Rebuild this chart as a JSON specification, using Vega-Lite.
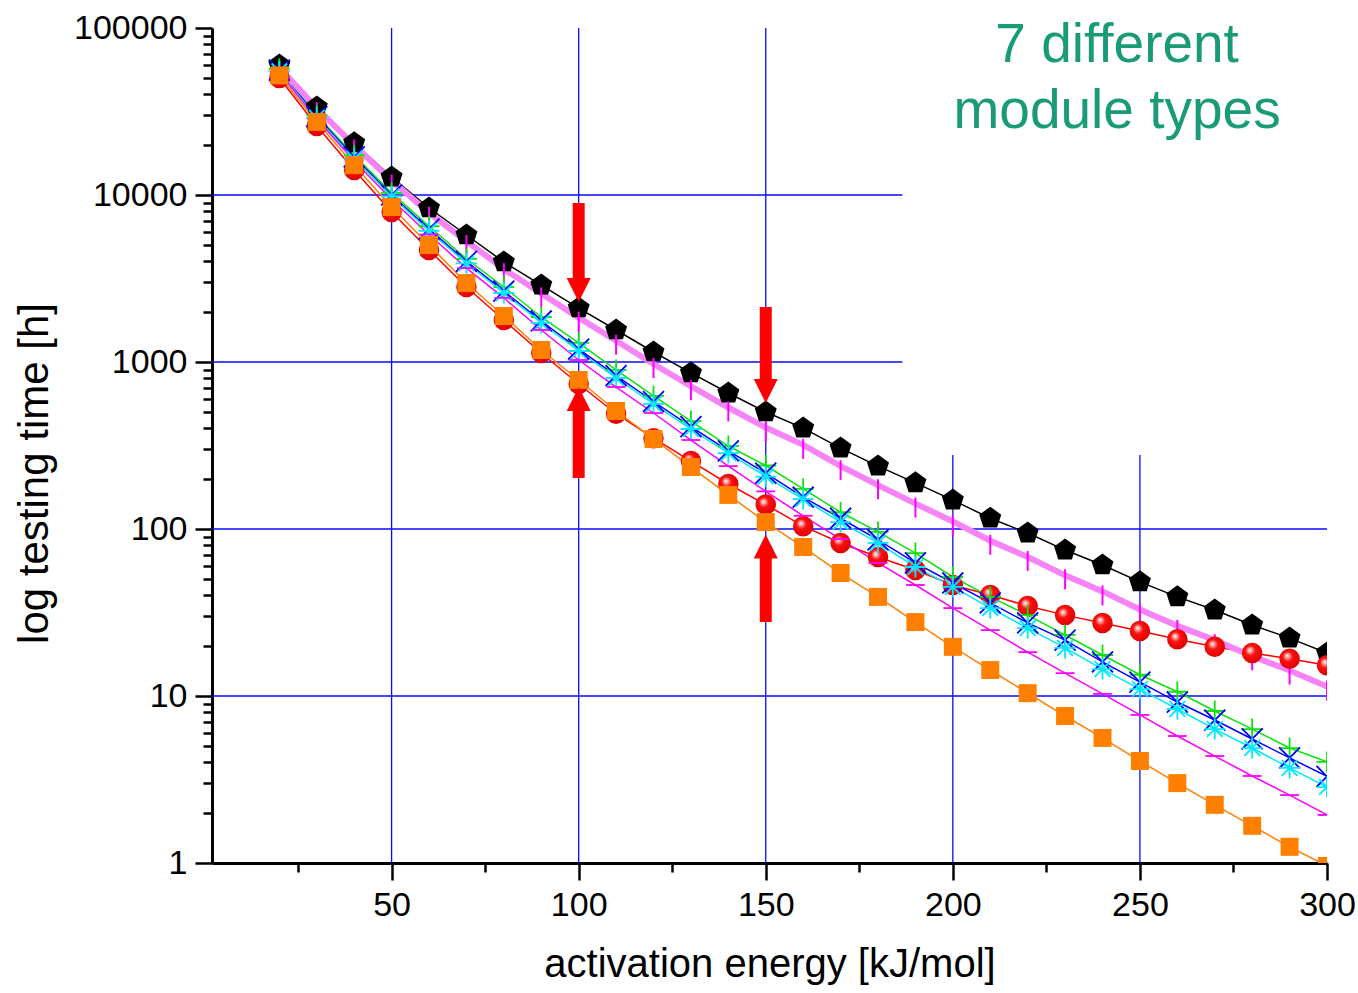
{
  "$schema": "https://vega.github.io/schema/vega-lite/v6.json",
  "width": 1115,
  "height": 835,
  "autosize": "none",
  "padding": {"left": 212, "top": 28, "right": 31, "bottom": 130},
  "background": "white",
  "config": {
    "view": {"stroke": null},
    "axis": {
      "grid": false,
      "labelFont": "Liberation Sans",
      "titleFont": "Liberation Sans",
      "labelColor": "#000000",
      "titleColor": "#000000",
      "domainColor": "#000000",
      "tickColor": "#000000",
      "domainWidth": 3,
      "tickWidth": 2.5,
      "labelFontSize": 34,
      "titleFontWeight": "normal",
      "labelOverlap": false,
      "labelFlush": false
    }
  },
  "datasets": {
    "pts": [
      {"s": "black", "E": 20, "t": 60000}, {"s": "black", "E": 30, "t": 33600}, {"s": "black", "E": 40, "t": 20500}, {"s": "black", "E": 50, "t": 12800}, {"s": "black", "E": 60, "t": 8360}, {"s": "black", "E": 70, "t": 5760}, {"s": "black", "E": 80, "t": 3970}, {"s": "black", "E": 90, "t": 2890}, {"s": "black", "E": 100, "t": 2105}, {"s": "black", "E": 110, "t": 1555}, {"s": "black", "E": 120, "t": 1148}, {"s": "black", "E": 130, "t": 860}, {"s": "black", "E": 140, "t": 652}, {"s": "black", "E": 150, "t": 502}, {"s": "black", "E": 160, "t": 402}, {"s": "black", "E": 170, "t": 305}, {"s": "black", "E": 180, "t": 238}, {"s": "black", "E": 190, "t": 189}, {"s": "black", "E": 200, "t": 149}, {"s": "black", "E": 210, "t": 116}, {"s": "black", "E": 220, "t": 94.6}, {"s": "black", "E": 230, "t": 74.8}, {"s": "black", "E": 240, "t": 60.9}, {"s": "black", "E": 250, "t": 48.2}, {"s": "black", "E": 260, "t": 39.2}, {"s": "black", "E": 270, "t": 32.7}, {"s": "black", "E": 280, "t": 26.6}, {"s": "black", "E": 290, "t": 22.2}, {"s": "black", "E": 300, "t": 18.1},
      {"s": "red", "E": 20, "t": 50200}, {"s": "red", "E": 30, "t": 25900}, {"s": "red", "E": 40, "t": 14100}, {"s": "red", "E": 50, "t": 7900}, {"s": "red", "E": 60, "t": 4690}, {"s": "red", "E": 70, "t": 2810}, {"s": "red", "E": 80, "t": 1783}, {"s": "red", "E": 90, "t": 1132}, {"s": "red", "E": 100, "t": 738}, {"s": "red", "E": 110, "t": 490}, {"s": "red", "E": 120, "t": 350}, {"s": "red", "E": 130, "t": 255}, {"s": "red", "E": 140, "t": 186}, {"s": "red", "E": 150, "t": 140}, {"s": "red", "E": 160, "t": 104}, {"s": "red", "E": 170, "t": 82.5}, {"s": "red", "E": 180, "t": 68}, {"s": "red", "E": 190, "t": 56.8}, {"s": "red", "E": 200, "t": 46.2}, {"s": "red", "E": 210, "t": 40.3}, {"s": "red", "E": 220, "t": 34.6}, {"s": "red", "E": 230, "t": 30.5}, {"s": "red", "E": 240, "t": 27.4}, {"s": "red", "E": 250, "t": 24.5}, {"s": "red", "E": 260, "t": 21.9}, {"s": "red", "E": 270, "t": 19.7}, {"s": "red", "E": 280, "t": 18.1}, {"s": "red", "E": 290, "t": 16.7}, {"s": "red", "E": 300, "t": 15.3},
      {"s": "green", "E": 20, "t": 57000}, {"s": "green", "E": 30, "t": 30000}, {"s": "green", "E": 40, "t": 17300}, {"s": "green", "E": 50, "t": 10300}, {"s": "green", "E": 60, "t": 6500}, {"s": "green", "E": 70, "t": 4150}, {"s": "green", "E": 80, "t": 2810}, {"s": "green", "E": 90, "t": 1860}, {"s": "green", "E": 100, "t": 1300}, {"s": "green", "E": 110, "t": 896}, {"s": "green", "E": 120, "t": 626}, {"s": "green", "E": 130, "t": 443}, {"s": "green", "E": 140, "t": 314}, {"s": "green", "E": 150, "t": 240}, {"s": "green", "E": 160, "t": 174}, {"s": "green", "E": 170, "t": 126}, {"s": "green", "E": 180, "t": 96}, {"s": "green", "E": 190, "t": 71.8}, {"s": "green", "E": 200, "t": 51.6}, {"s": "green", "E": 210, "t": 39.2}, {"s": "green", "E": 220, "t": 30.5}, {"s": "green", "E": 230, "t": 23.2}, {"s": "green", "E": 240, "t": 17.6}, {"s": "green", "E": 250, "t": 13.4}, {"s": "green", "E": 260, "t": 10.6}, {"s": "green", "E": 270, "t": 8.13}, {"s": "green", "E": 280, "t": 6.34}, {"s": "green", "E": 290, "t": 4.88}, {"s": "green", "E": 300, "t": 4.03},
      {"s": "blue", "E": 20, "t": 56000}, {"s": "blue", "E": 30, "t": 29500}, {"s": "blue", "E": 40, "t": 16900}, {"s": "blue", "E": 50, "t": 10000}, {"s": "blue", "E": 60, "t": 6250}, {"s": "blue", "E": 70, "t": 4000}, {"s": "blue", "E": 80, "t": 2660}, {"s": "blue", "E": 90, "t": 1760}, {"s": "blue", "E": 100, "t": 1196}, {"s": "blue", "E": 110, "t": 830}, {"s": "blue", "E": 120, "t": 580}, {"s": "blue", "E": 130, "t": 410}, {"s": "blue", "E": 140, "t": 294}, {"s": "blue", "E": 150, "t": 216}, {"s": "blue", "E": 160, "t": 155}, {"s": "blue", "E": 170, "t": 116}, {"s": "blue", "E": 180, "t": 86}, {"s": "blue", "E": 190, "t": 62.6}, {"s": "blue", "E": 200, "t": 47.5}, {"s": "blue", "E": 210, "t": 36.1}, {"s": "blue", "E": 220, "t": 27.4}, {"s": "blue", "E": 230, "t": 21.6}, {"s": "blue", "E": 240, "t": 16}, {"s": "blue", "E": 250, "t": 12.1}, {"s": "blue", "E": 260, "t": 9.2}, {"s": "blue", "E": 270, "t": 7.18}, {"s": "blue", "E": 280, "t": 5.53}, {"s": "blue", "E": 290, "t": 4.26}, {"s": "blue", "E": 300, "t": 3.3},
      {"s": "cyan", "E": 20, "t": 55000}, {"s": "cyan", "E": 30, "t": 29000}, {"s": "cyan", "E": 40, "t": 16500}, {"s": "cyan", "E": 50, "t": 9800}, {"s": "cyan", "E": 60, "t": 6100}, {"s": "cyan", "E": 70, "t": 3900}, {"s": "cyan", "E": 80, "t": 2590}, {"s": "cyan", "E": 90, "t": 1713}, {"s": "cyan", "E": 100, "t": 1164}, {"s": "cyan", "E": 110, "t": 802}, {"s": "cyan", "E": 120, "t": 561}, {"s": "cyan", "E": 130, "t": 397}, {"s": "cyan", "E": 140, "t": 285}, {"s": "cyan", "E": 150, "t": 206}, {"s": "cyan", "E": 160, "t": 151}, {"s": "cyan", "E": 170, "t": 110}, {"s": "cyan", "E": 180, "t": 82.5}, {"s": "cyan", "E": 190, "t": 59.2}, {"s": "cyan", "E": 200, "t": 45}, {"s": "cyan", "E": 210, "t": 33.6}, {"s": "cyan", "E": 220, "t": 25.5}, {"s": "cyan", "E": 230, "t": 19.4}, {"s": "cyan", "E": 240, "t": 14.5}, {"s": "cyan", "E": 250, "t": 11}, {"s": "cyan", "E": 260, "t": 8.36}, {"s": "cyan", "E": 270, "t": 6.34}, {"s": "cyan", "E": 280, "t": 4.88}, {"s": "cyan", "E": 290, "t": 3.71}, {"s": "cyan", "E": 300, "t": 2.85},
      {"s": "magenta", "E": 20, "t": 54000}, {"s": "magenta", "E": 30, "t": 28500}, {"s": "magenta", "E": 40, "t": 16000}, {"s": "magenta", "E": 50, "t": 9400}, {"s": "magenta", "E": 60, "t": 5800}, {"s": "magenta", "E": 70, "t": 3650}, {"s": "magenta", "E": 80, "t": 2420}, {"s": "magenta", "E": 90, "t": 1555}, {"s": "magenta", "E": 100, "t": 1028}, {"s": "magenta", "E": 110, "t": 708}, {"s": "magenta", "E": 120, "t": 495}, {"s": "magenta", "E": 130, "t": 341}, {"s": "magenta", "E": 140, "t": 238}, {"s": "magenta", "E": 150, "t": 168}, {"s": "magenta", "E": 160, "t": 120}, {"s": "magenta", "E": 170, "t": 87}, {"s": "magenta", "E": 180, "t": 62.6}, {"s": "magenta", "E": 190, "t": 46.2}, {"s": "magenta", "E": 200, "t": 33.6}, {"s": "magenta", "E": 210, "t": 24.8}, {"s": "magenta", "E": 220, "t": 18.3}, {"s": "magenta", "E": 230, "t": 13.7}, {"s": "magenta", "E": 240, "t": 10.3}, {"s": "magenta", "E": 250, "t": 7.7}, {"s": "magenta", "E": 260, "t": 5.76}, {"s": "magenta", "E": 270, "t": 4.37}, {"s": "magenta", "E": 280, "t": 3.32}, {"s": "magenta", "E": 290, "t": 2.55}, {"s": "magenta", "E": 300, "t": 1.94},
      {"s": "orange", "E": 20, "t": 52000}, {"s": "orange", "E": 30, "t": 27400}, {"s": "orange", "E": 40, "t": 15100}, {"s": "orange", "E": 50, "t": 8470}, {"s": "orange", "E": 60, "t": 5020}, {"s": "orange", "E": 70, "t": 2970}, {"s": "orange", "E": 80, "t": 1885}, {"s": "orange", "E": 90, "t": 1180}, {"s": "orange", "E": 100, "t": 780}, {"s": "orange", "E": 110, "t": 509}, {"s": "orange", "E": 120, "t": 346}, {"s": "orange", "E": 130, "t": 235}, {"s": "orange", "E": 140, "t": 160}, {"s": "orange", "E": 150, "t": 110}, {"s": "orange", "E": 160, "t": 78}, {"s": "orange", "E": 170, "t": 54.5}, {"s": "orange", "E": 180, "t": 39.2}, {"s": "orange", "E": 190, "t": 27.7}, {"s": "orange", "E": 200, "t": 19.7}, {"s": "orange", "E": 210, "t": 14.3}, {"s": "orange", "E": 220, "t": 10.4}, {"s": "orange", "E": 230, "t": 7.59}, {"s": "orange", "E": 240, "t": 5.61}, {"s": "orange", "E": 250, "t": 4.08}, {"s": "orange", "E": 260, "t": 3.01}, {"s": "orange", "E": 270, "t": 2.23}, {"s": "orange", "E": 280, "t": 1.67}, {"s": "orange", "E": 290, "t": 1.25}, {"s": "orange", "E": 300, "t": 0.96}
    ],
    "pink": [
      {"E": 20, "t": 58000}, {"E": 30, "t": 33100}, {"E": 40, "t": 19800}, {"E": 50, "t": 12200}, {"E": 60, "t": 7820}, {"E": 70, "t": 5300}, {"E": 80, "t": 3600}, {"E": 90, "t": 2575}, {"E": 100, "t": 1843}, {"E": 110, "t": 1341}, {"E": 120, "t": 973}, {"E": 130, "t": 716}, {"E": 140, "t": 534}, {"E": 150, "t": 405}, {"E": 160, "t": 319}, {"E": 170, "t": 238}, {"E": 180, "t": 183}, {"E": 190, "t": 142}, {"E": 200, "t": 111}, {"E": 210, "t": 85}, {"E": 220, "t": 68}, {"E": 230, "t": 52.8}, {"E": 240, "t": 42.3}, {"E": 250, "t": 33}, {"E": 260, "t": 26.3}, {"E": 270, "t": 21.6}, {"E": 280, "t": 17.3}, {"E": 290, "t": 14.2}, {"E": 300, "t": 11.4}
    ],
    "gridv": [
      {"E": 50, "t": 1, "t2": 100000}, {"E": 100, "t": 1, "t2": 100000}, {"E": 150, "t": 1, "t2": 100000}, {"E": 200, "t": 1, "t2": 277}, {"E": 250, "t": 1, "t2": 277}
    ],
    "gridh": [
      {"t": 10000, "E": 2, "E2": 186.5}, {"t": 1000, "E": 2, "E2": 186.5}, {"t": 100, "E": 2, "E2": 300}, {"t": 10, "E": 2, "E2": 300}
    ],
    "shafts": [
      {"E": 100, "t": 8955, "t2": 3098}, {"E": 150, "t": 2135, "t2": 759}, {"E": 100, "t": 202, "t2": 516}, {"E": 150, "t": 27.7, "t2": 69.9}
    ],
    "heads": [
      {"E": 100, "t": 2699, "dir": "down"}, {"E": 150, "t": 670, "dir": "down"}, {"E": 100, "t": 600, "dir": "up"}, {"E": 150, "t": 78.6, "dir": "up"}
    ],
    "notes": [
      {"E": 243.9, "t": 62540, "label": "7 different"}, {"E": 243.9, "t": 25180, "label": "module types"}
    ]
  },
  "encoding": {
    "x": {
      "field": "E", "type": "quantitative",
      "scale": {"domain": [2, 300], "nice": false, "zero": false},
      "axis": {
        "title": "activation energy [kJ/mol]",
        "titleFontSize": 40,
        "titleY": 113,
        "titleBaseline": "alphabetic",
        "values": [25, 50, 75, 100, 125, 150, 175, 200, 225, 250, 275, 300],
        "labelExpr": "datum.value % 50 == 0 ? datum.label : ''",
        "tickSize": {"condition": {"test": "datum.value % 50 == 0", "value": 17}, "value": 9},
        "labelPadding": 8
      }
    },
    "y": {
      "field": "t", "type": "quantitative",
      "scale": {"type": "log", "domain": [1, 100000], "nice": false},
      "axis": {
        "title": "log testing time [h]",
        "titleFontSize": 42,
        "titleX": -165,
        "titleY": 445,
        "titleBaseline": "alphabetic",
        "titleAlign": "center",
        "format": "d",
        "values": [1, 2, 3, 4, 5, 6, 7, 8, 9, 10, 20, 30, 40, 50, 60, 70, 80, 90, 100, 200, 300, 400, 500, 600, 700, 800, 900, 1000, 2000, 3000, 4000, 5000, 6000, 7000, 8000, 9000, 10000, 20000, 30000, 40000, 50000, 60000, 70000, 80000, 90000, 100000],
        "labelExpr": "indexof([1, 10, 100, 1000, 10000, 100000], datum.value) >= 0 ? datum.label : ''",
        "tickSize": {"condition": {"test": "indexof([1, 10, 100, 1000, 10000, 100000], datum.value) >= 0", "value": 17}, "value": 9},
        "labelPadding": 8
      }
    }
  },
  "layer": [
    {
      "data": {"name": "gridv"},
      "mark": {"type": "rule", "color": "#0a0aff", "strokeWidth": 1.3},
      "encoding": {"y2": {"field": "t2"}}
    },
    {
      "data": {"name": "gridh"},
      "mark": {"type": "rule", "color": "#0a0aff", "strokeWidth": 1.3},
      "encoding": {"x2": {"field": "E2"}}
    },
    {
      "data": {"name": "pts"},
      "mark": {"type": "line", "strokeWidth": 1.5, "clip": true},
      "encoding": {
        "color": {
          "field": "s", "type": "nominal", "legend": null,
          "scale": {
            "domain": ["black", "red", "green", "blue", "cyan", "magenta", "orange"],
            "range": ["#000000", "#ff0000", "#10e010", "#0000ff", "#00e8ff", "#ff00ff", "#ff8000"]
          }
        },
        "order": {"field": "E", "type": "quantitative"}
      }
    },
    {
      "data": {"name": "pink"},
      "mark": {"type": "line", "strokeWidth": 6, "color": "#f684f6", "clip": true},
      "encoding": {}
    },
    {
      "data": {"name": "pts"},
      "transform": [{"filter": "datum.s == 'black'"}],
      "mark": {"type": "point", "filled": true, "opacity": 1, "fill": "#000000", "size": 535, "clip": true,
        "shape": "M0,-1L0.951,-0.309L0.588,0.809L-0.588,0.809L-0.951,-0.309Z"},
      "encoding": {}
    },
    {
      "data": {"name": "pink"},
      "mark": {"type": "point", "filled": false, "opacity": 1, "stroke": "#ff00ff", "strokeWidth": 2, "size": 400, "yOffset": 4, "clip": true, "shape": "M0,-1L0,1"},
      "encoding": {}
    },
    {
      "data": {"name": "pts"},
      "transform": [{"filter": "datum.s == 'red'"}],
      "mark": {"type": "point", "filled": true, "opacity": 1, "size": 420, "shape": "circle", "clip": true,
        "fill": {"gradient": "radial", "x1": 0.38, "y1": 0.35, "r1": 0, "x2": 0.45, "y2": 0.45, "r2": 0.6,
          "stops": [{"offset": 0, "color": "#ffffff"}, {"offset": 0.12, "color": "#ffc0c0"}, {"offset": 0.4, "color": "#ff1010"}, {"offset": 1, "color": "#d80000"}]}},
      "encoding": {}
    },
    {
      "data": {"name": "pts"},
      "transform": [{"filter": "indexof(['green', 'blue', 'cyan', 'magenta'], datum.s) >= 0"}],
      "mark": {"type": "point", "filled": false, "opacity": 1, "strokeWidth": 1.8, "size": 440, "clip": true},
      "encoding": {
        "shape": {
          "field": "s", "type": "nominal", "legend": null,
          "scale": {
            "domain": ["green", "blue", "cyan", "magenta"],
            "range": ["M-1,0L1,0M0,-1L0,1", "M-1,-1L1,1M-1,1L1,-1", "M-1,0L1,0M0,-1L0,1M-0.75,-0.75L0.75,0.75M-0.75,0.75L0.75,-0.75", "M-0.9,0L0.9,0"]
          }
        },
        "stroke": {
          "field": "s", "type": "nominal", "legend": null,
          "scale": {
            "domain": ["green", "blue", "cyan", "magenta"],
            "range": ["#10e010", "#0000ff", "#00e8ff", "#ff00ff"]
          }
        }
      }
    },
    {
      "data": {"name": "pts"},
      "transform": [{"filter": "datum.s == 'orange'"}],
      "mark": {"type": "point", "filled": true, "opacity": 1, "fill": "#ff8000", "size": 324, "shape": "square", "clip": true},
      "encoding": {}
    },
    {
      "data": {"name": "shafts"},
      "mark": {"type": "rule", "color": "#ff0000", "strokeWidth": 12},
      "encoding": {"y2": {"field": "t2"}}
    },
    {
      "data": {"name": "heads"},
      "transform": [{"filter": "datum.dir == 'down'"}],
      "mark": {"type": "point", "filled": true, "opacity": 1, "fill": "#ff0000", "size": 576, "shape": "M-1,-1L1,-1L0,1Z"},
      "encoding": {}
    },
    {
      "data": {"name": "heads"},
      "transform": [{"filter": "datum.dir == 'up'"}],
      "mark": {"type": "point", "filled": true, "opacity": 1, "fill": "#ff0000", "size": 576, "shape": "M-1,1L1,1L0,-1Z"},
      "encoding": {}
    },
    {
      "data": {"name": "notes"},
      "mark": {"type": "text", "font": "Liberation Sans", "fontSize": 55, "color": "#1a9b78", "align": "center", "baseline": "alphabetic"},
      "encoding": {"text": {"field": "label"}}
    }
  ]
}
